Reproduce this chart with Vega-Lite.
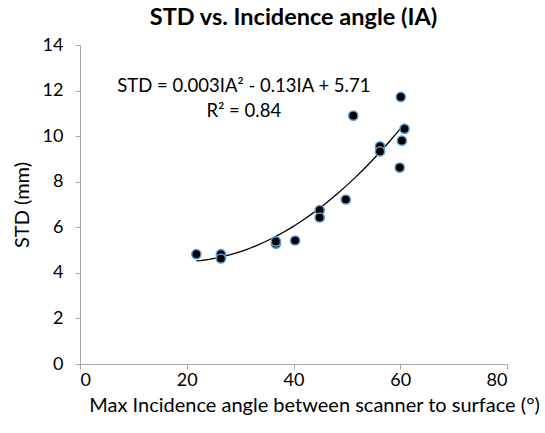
{
  "$schema": "https://vega.github.io/schema/vega-lite/v6.json",
  "width": 427,
  "height": 319,
  "autosize": {"type": "none"},
  "padding": {"left": 80, "top": 45, "right": 38, "bottom": 69},
  "background": "white",
  "config": {
    "view": {"stroke": null},
    "font": "Lato",
    "axis": {
      "grid": false,
      "domainColor": "#A6A6A6",
      "tickColor": "#A6A6A6",
      "tickSize": 5,
      "labelFont": "Lato",
      "labelFontSize": 18,
      "labelColor": "#000000",
      "titleFont": "Lato",
      "titleFontSize": 20,
      "titleFontWeight": "normal",
      "titleColor": "#000000"
    }
  },
  "title": {
    "text": "STD vs. Incidence angle (IA)",
    "font": "Lato",
    "fontSize": 23.5,
    "fontWeight": "bold",
    "color": "#000000",
    "anchor": "middle",
    "offset": 7
  },
  "datasets": {
    "pts": [
      {"ia": 21.8, "std": 4.82},
      {"ia": 26.4, "std": 4.82},
      {"ia": 26.4, "std": 4.63},
      {"ia": 36.7, "std": 5.28},
      {"ia": 36.7, "std": 5.38},
      {"ia": 40.3, "std": 5.42},
      {"ia": 44.9, "std": 6.75},
      {"ia": 44.9, "std": 6.43},
      {"ia": 49.8, "std": 7.22},
      {"ia": 51.2, "std": 10.9},
      {"ia": 56.2, "std": 9.55},
      {"ia": 56.2, "std": 9.33},
      {"ia": 60.1, "std": 11.72},
      {"ia": 60.8, "std": 10.32},
      {"ia": 60.3, "std": 9.8},
      {"ia": 59.9, "std": 8.62}
    ],
    "notes": [
      {"ia": 30.7, "std": 12.2, "label": "STD = 0.003IA² - 0.13IA + 5.71"},
      {"ia": 30.7, "std": 11.1, "label": "R² = 0.84"}
    ]
  },
  "layer": [
    {
      "data": {"name": "pts"},
      "transform": [
        {"regression": "std", "on": "ia", "method": "poly", "order": 2}
      ],
      "mark": {"type": "line", "color": "#000000", "strokeWidth": 1.3},
      "encoding": {
        "x": {"field": "ia", "type": "quantitative"},
        "y": {"field": "std", "type": "quantitative"}
      }
    },
    {
      "data": {"name": "pts"},
      "mark": {"type": "point", "filled": false, "fill": "#000000", "fillOpacity": 1, "stroke": "#5B9BD5", "strokeWidth": 1.5, "opacity": 1, "size": 85},
      "encoding": {
        "x": {
          "field": "ia", "type": "quantitative",
          "scale": {"domain": [0, 80], "nice": false},
          "axis": {"values": [0, 20, 40, 60, 80], "title": "Max Incidence angle between scanner to surface (°)", "labelPadding": 2, "titlePadding": 6, "titleX": 234}
        },
        "y": {
          "field": "std", "type": "quantitative",
          "scale": {"domain": [0, 14], "nice": false},
          "axis": {"values": [0, 2, 4, 6, 8, 10, 12, 14], "title": "STD (mm)", "labelPadding": 12, "titlePadding": 10}
        }
      }
    },
    {
      "data": {"name": "notes"},
      "mark": {"type": "text", "font": "Lato", "fontSize": 18.5, "color": "#000000", "align": "center", "baseline": "middle"},
      "encoding": {
        "x": {"field": "ia", "type": "quantitative"},
        "y": {"field": "std", "type": "quantitative"},
        "text": {"field": "label"}
      }
    }
  ]
}
